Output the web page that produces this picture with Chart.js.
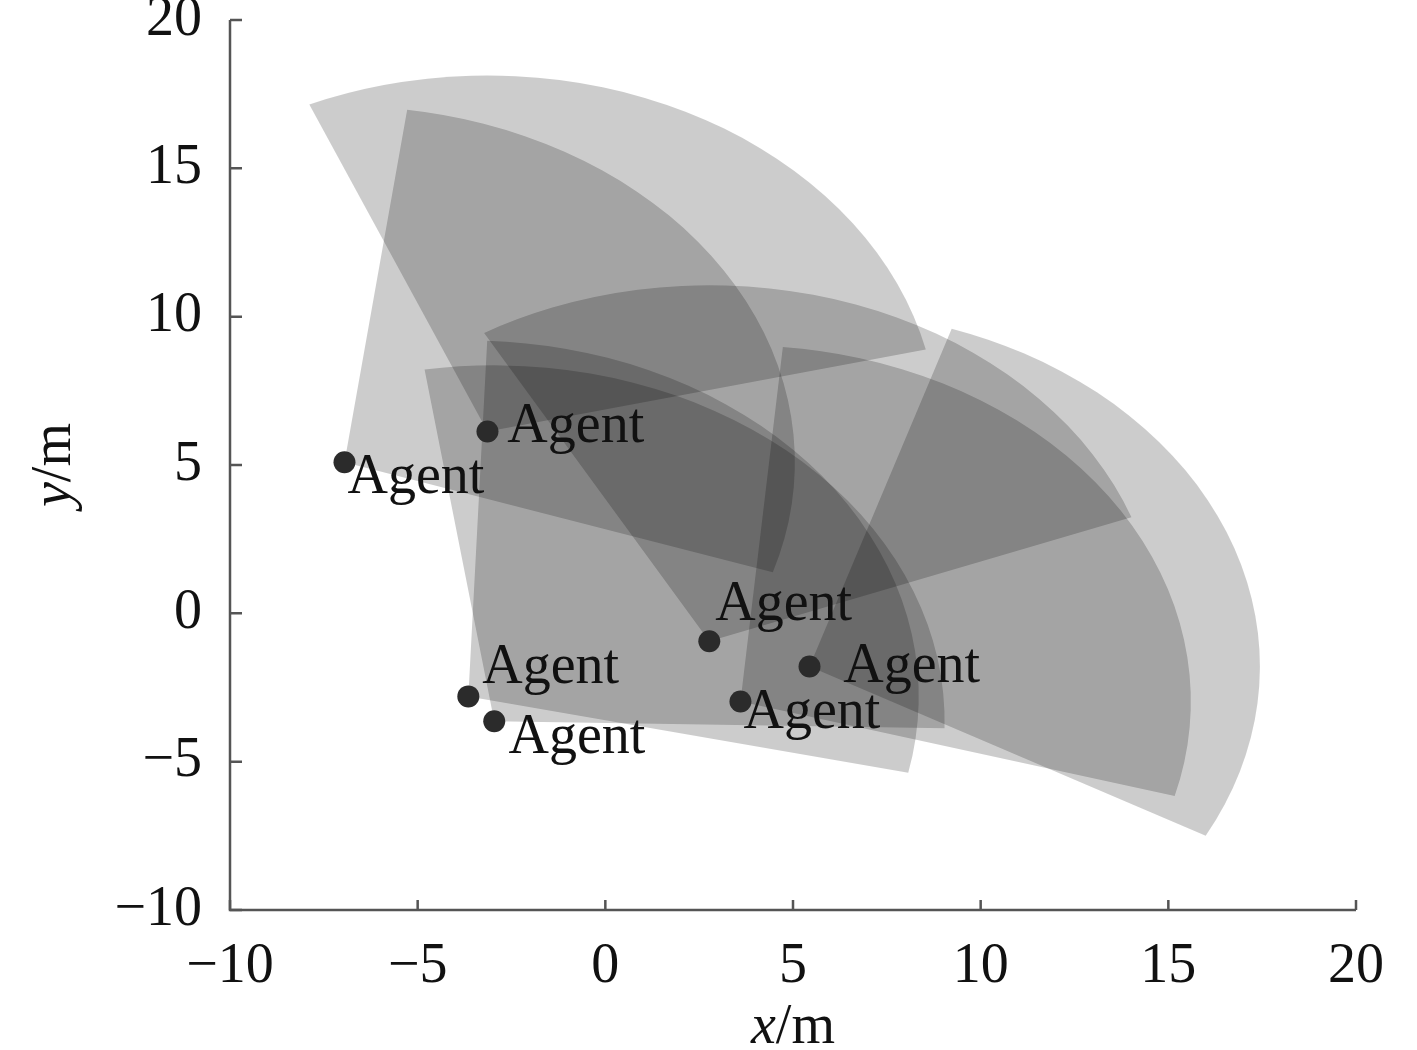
<!DOCTYPE html>
<html><head><meta charset="utf-8">
<script src="https://cdn.jsdelivr.net/npm/chart.js@4/dist/chart.umd.min.js"></script>
<style>html,body{margin:0;padding:0;background:#fff;}#wrap{width:1417px;height:1050px;}</style>
</head><body><div id="wrap"><canvas id="c" width="1417" height="1050"></canvas></div>
<script>
// Agent positions (m)
const agentX = [-6.95, -3.14, 2.77, 5.44, 3.60, -3.65, -2.96];
const agentY = [5.09, 6.13, -0.94, -1.79, -2.97, -2.80, -3.64];
const agentLabels = ["Agent", "Agent", "Agent", "Agent", "Agent", "Agent", "Agent"];
// Label anchor (left, baseline) in data coordinates
const labelX = [-6.87, -2.61, 2.93, 6.34, 3.68, -3.28, -2.58];
const labelY = [4.04, 5.76, -0.24, -2.33, -3.88, -2.36, -4.72];
// Sensing sectors: radius (m), start / end angle (deg)
const sensorRadius = [12, 12, 12, 12, 12, 12, 12];
const sectorStart = [-18.0, 13.3, 20.4, -28.4, -15.4, -12.4, -1.1];
const sectorEnd   = [82.0, 113.3, 120.0, 71.6, 84.6, 87.6, 98.9];
const xTicks = [-10, -5, 0, 5, 10, 15, 20];
const yTicks = [-10, -5, 0, 5, 10, 15, 20];

const SERIF = '"Liberation Serif", "Times New Roman", serif';
const fmt = v => (v < 0 ? '\u2212' + Math.abs(v) : String(v));

const fanPlugin = {
  id: 'fans',
  beforeDatasetsDraw(chart) {
    const {ctx, scales: {x, y}} = chart;
    ctx.save();
    for (let i = 0; i < agentX.length; i++) {
      const cx = x.getPixelForValue(agentX[i]);
      const cy = y.getPixelForValue(agentY[i]);
      const rx = x.getPixelForValue(agentX[i] + sensorRadius[i]) - cx;
      const ry = cy - y.getPixelForValue(agentY[i] + sensorRadius[i]);
      const a0 = sectorStart[i] * Math.PI / 180, a1 = sectorEnd[i] * Math.PI / 180;
      ctx.beginPath();
      ctx.moveTo(cx, cy);
      ctx.ellipse(cx, cy, rx, ry, 0, -a0, -a1, true);
      ctx.closePath();
      ctx.fillStyle = 'rgba(0,0,0,0.2)';
      ctx.fill();
    }
    ctx.restore();
  },
  afterDatasetsDraw(chart) {
    const {ctx, scales: {x, y}} = chart;
    ctx.save();
    ctx.font = '56px ' + SERIF;
    ctx.fillStyle = '#111';
    ctx.textAlign = 'left';
    ctx.textBaseline = 'alphabetic';
    for (let i = 0; i < agentLabels.length; i++) {
      ctx.fillText(agentLabels[i], x.getPixelForValue(labelX[i]), y.getPixelForValue(labelY[i]));
    }
    ctx.restore();
  },
  afterDraw(chart) {
    const {ctx, scales: {x, y}, chartArea: ca} = chart;
    ctx.save();
    ctx.strokeStyle = '#555';
    ctx.lineWidth = 2.5;
    ctx.beginPath();
    ctx.moveTo(ca.left, ca.top);
    ctx.lineTo(ca.left, ca.bottom);
    ctx.lineTo(ca.right, ca.bottom);
    ctx.stroke();
    ctx.beginPath();
    xTicks.forEach(v => { const px = x.getPixelForValue(v); ctx.moveTo(px, ca.bottom); ctx.lineTo(px, ca.bottom - 10); });
    yTicks.forEach(v => { const py = y.getPixelForValue(v); ctx.moveTo(ca.left, py); ctx.lineTo(ca.left + 12, py); });
    ctx.stroke();
    // axis titles
    ctx.fillStyle = '#111';
    ctx.textBaseline = 'alphabetic';
    ctx.textAlign = 'left';
    ctx.font = 'italic 56px ' + SERIF;
    const wx = ctx.measureText('x').width;
    const wy = ctx.measureText('y').width;
    ctx.font = '56px ' + SERIF;
    const wm = ctx.measureText('/m').width;
    const sx = (ca.left + ca.right) / 2 - (wx + wm) / 2;
    ctx.font = 'italic 56px ' + SERIF;
    ctx.fillText('x', sx, 1043);
    ctx.font = '56px ' + SERIF;
    ctx.fillText('/m', sx + wx, 1043);
    ctx.save();
    ctx.translate(70, (ca.top + ca.bottom) / 2);
    ctx.rotate(-Math.PI / 2);
    const sy = -(wy + wm) / 2;
    ctx.font = 'italic 56px ' + SERIF;
    ctx.fillText('y', sy, 0);
    ctx.font = '56px ' + SERIF;
    ctx.fillText('/m', sy + wy, 0);
    ctx.restore();
    ctx.restore();
  }
};

new Chart(document.getElementById('c'), {
  type: 'scatter',
  data: {
    datasets: [{
      data: agentX.map((v, i) => ({x: v, y: agentY[i]})),
      pointRadius: 11,
      pointHoverRadius: 11,
      backgroundColor: '#2b2b2b',
      borderWidth: 0
    }]
  },
  options: {
    responsive: false,
    animation: false,
    devicePixelRatio: 1,
    layout: {padding: {left: 0, right: 61, top: 20, bottom: 0}},
    plugins: {legend: {display: false}, tooltip: {enabled: false}},
    scales: {
      x: {
        type: 'linear', min: -10, max: 20,
        grid: {display: false},
        border: {display: false},
        ticks: {stepSize: 5, padding: 16, color: '#111', font: {family: SERIF, size: 56, lineHeight: 1.2}, callback: fmt, maxRotation: 0},
        afterFit(s) { s.height = 140; }
      },
      y: {
        type: 'linear', min: -10, max: 20,
        grid: {display: true, drawOnChartArea: false, drawTicks: true, tickLength: 28, tickColor: 'rgba(0,0,0,0)', color: 'rgba(0,0,0,0)'},
        border: {display: false},
        ticks: {stepSize: 5, padding: 0, color: '#111', font: {family: SERIF, size: 56, lineHeight: 0.7}, callback: fmt},
        afterFit(s) { s.width = 230; }
      }
    }
  },
  plugins: [fanPlugin]
});
</script>
</body></html>
